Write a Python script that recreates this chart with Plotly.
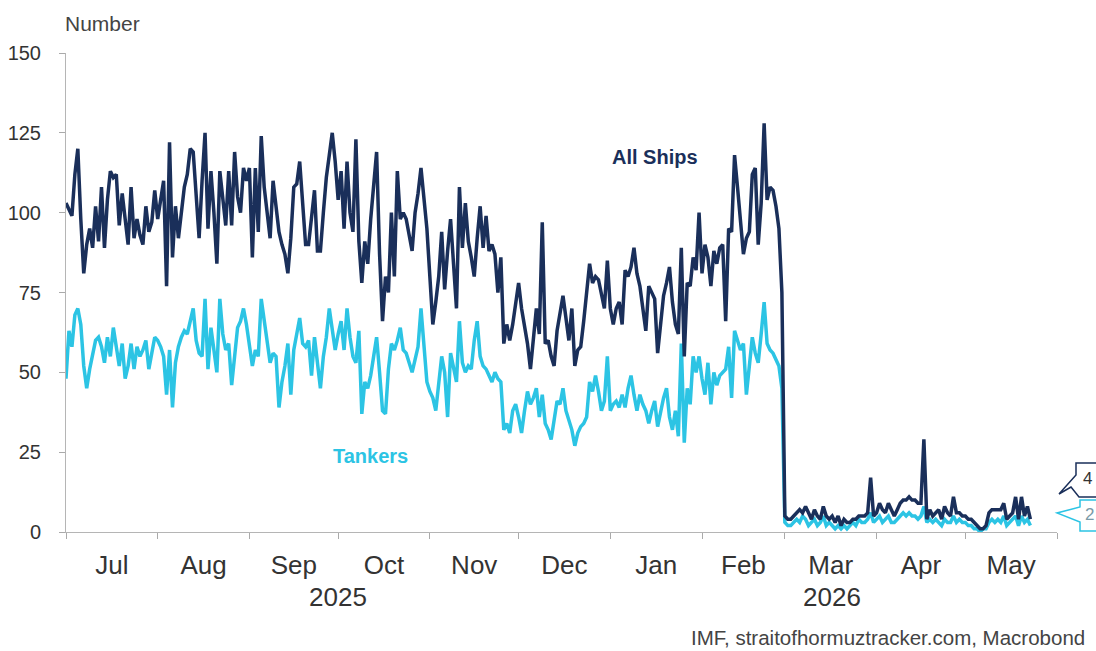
import pandas as pd
import plotly.graph_objects as go

start_date = "2025-07-01"

all_ships = [
    103,101,99,112,120,98,81,90,95,89,
    102,91,108,89,104,113,111,112,96,106,
    98,90,108,92,98,93,90,102,94,97,
    107,98,104,110,77,122,86,102,92,100,
    108,112,120,119,105,92,110,125,95,113,
    100,84,113,104,96,113,96,119,105,100,
    114,110,114,86,114,94,124,108,100,92,
    110,102,94,90,87,81,92,108,109,116,
    104,90,90,98,107,88,88,100,111,118,
    125,116,104,113,95,116,100,94,123,91,
    78,91,84,98,110,119,87,66,80,75,
    100,80,113,98,100,98,93,88,100,106,
    114,104,95,80,65,72,80,94,76,88,
    98,84,70,108,89,103,91,86,80,92,
    102,89,99,88,90,87,75,86,59,65,
    60,65,72,78,70,65,59,51,62,70,
    62,97,59,60,55,52,63,68,74,67,
    60,70,52,57,58,66,74,84,78,80,
    79,75,70,85,70,65,70,72,65,82,
    80,83,89,81,77,70,63,77,75,73,
    56,66,74,78,83,72,65,62,89,55,
    78,77,86,82,100,81,90,86,77,88,
    84,89,90,66,95,94,118,108,98,87,
    92,94,112,114,90,103,128,104,108,107,
    102,95,75,5,4,4,5,6,7,6,
    8,6,4,7,5,4,8,5,4,5,
    3,5,2,4,3,3,4,4,5,5,
    5,6,17,5,6,9,7,6,9,7,
    5,7,9,10,10,11,10,10,9,9,
    29,4,7,5,6,7,4,8,6,5,
    11,6,6,5,5,4,4,3,2,1,
    1,2,6,7,7,7,7,9,4,5,
    6,11,4,11,5,8,4,
]

tankers = [
    48,63,58,68,70,65,52,45,51,56,
    60,61,58,53,61,55,64,58,52,59,
    48,52,59,51,58,55,57,60,51,56,
    61,60,58,55,43,57,39,53,58,61,
    63,62,66,70,60,56,55,73,51,64,
    57,50,73,62,57,59,46,55,64,66,
    70,65,58,52,57,55,73,66,61,53,
    56,55,39,47,52,59,43,57,62,67,
    59,58,60,49,61,52,45,55,61,70,
    64,57,62,66,57,70,61,55,53,63,
    37,47,45,49,55,61,50,38,37,51,
    59,57,60,64,57,56,53,50,54,58,
    70,58,47,44,42,38,47,55,50,36,
    56,52,47,66,53,50,52,51,60,66,
    55,52,51,49,47,50,48,47,32,34,
    31,38,40,36,31,38,44,40,42,45,
    36,43,34,32,29,35,41,40,45,38,
    35,32,27,31,33,34,36,47,44,49,
    44,38,41,55,38,40,41,39,43,39,
    45,49,43,38,43,40,38,34,38,41,
    33,38,42,45,36,32,38,30,59,28,
    45,40,55,50,55,48,43,53,40,50,
    46,49,50,51,58,42,63,60,57,59,
    43,52,61,56,53,62,72,59,57,56,
    54,52,45,3,2,2,3,4,3,5,
    4,2,3,4,2,3,5,2,3,2,
    1,2,1,2,1,2,3,2,4,3,
    3,4,6,3,4,5,3,4,5,3,
    3,4,5,6,5,6,5,5,4,5,
    8,3,4,3,4,3,2,4,3,3,
    5,3,4,3,3,2,2,1,1,0,
    1,1,3,4,3,4,3,5,2,3,
    4,5,2,5,3,4,2,
]

y_ticks = [0, 25, 50, 75, 100, 125, 150]
year_labels = ["2025", "2026"]
year_centers = ["2025-10-01", "2026-03-17"]

dates = pd.date_range(start_date, periods=len(all_ships), freq="D")

NAVY = "#1a2f5a"
CYAN = "#2cc4e4"
FONT = "Liberation Sans, Arial, sans-serif"
W, H = 1096, 651
L, R, T, B = 66, 39, 53, 119

def px(x, y):
    return (x - L) / (W - L - R), (H - B - y) / (H - T - B)

fig = go.Figure()
fig.add_trace(go.Scatter(x=dates, y=tankers, mode="lines", name="Tankers",
                         line=dict(color=CYAN, width=3.5)))
fig.add_trace(go.Scatter(x=dates, y=all_ships, mode="lines", name="All Ships",
                         line=dict(color=NAVY, width=3.5)))

fig.update_layout(
    width=W, height=H,
    margin=dict(l=L, r=R, t=T, b=B, autoexpand=False),
    paper_bgcolor="white", plot_bgcolor="white",
    showlegend=False,
    font=dict(family=FONT, color="#333333"),
    xaxis=dict(
        type="date", range=["2025-07-01", "2026-06-01"],
        tick0="2025-07-01", dtick="M1", tickformat="%b",
        ticklabelmode="period", automargin=False,
        ticks="outside", ticklen=6, tickcolor="#aaaaaa",
        showline=True, linecolor="#b5b5b5", linewidth=1,
        showgrid=False, zeroline=False,
        tickfont=dict(size=26, color="#333333"),
        ticklabelstandoff=4,
    ),
    yaxis=dict(
        range=[0, 150], tickvals=y_ticks, automargin=False,
        ticks="outside", ticklen=6, tickcolor="#aaaaaa",
        showline=True, linecolor="#b5b5b5", linewidth=1,
        showgrid=False, zeroline=False,
        tickfont=dict(size=20, color="#333333"),
        ticklabelstandoff=14,
    ),
)

for lab, c in zip(year_labels, year_centers):
    fig.add_annotation(x=c, xref="x", y=-0.136, yref="paper", text=lab,
                       showarrow=False, font=dict(size=26, color="#333333"),
                       xanchor="center", yanchor="middle")

nx, ny = px(63, 23)
fig.add_annotation(x=nx, y=ny, xref="paper", yref="paper", text="Number",
                   showarrow=False, xanchor="left", yanchor="middle",
                   font=dict(size=21, color="#444444"))

ax_, ay_ = px(655, 157)
fig.add_annotation(x=ax_, y=ay_, xref="paper", yref="paper", text="<b>All Ships</b>",
                   showarrow=False, xanchor="center", yanchor="middle",
                   font=dict(size=20, color=NAVY))
tx, ty = px(370, 456)
fig.add_annotation(x=tx, y=ty, xref="paper", yref="paper", text="<b>Tankers</b>",
                   showarrow=False, xanchor="center", yanchor="middle",
                   font=dict(size=20, color=CYAN))

sx, sy = px(1087, 637)
fig.add_annotation(x=sx, y=sy, xref="paper", yref="paper",
                   text="IMF, straitofhormuztracker.com, Macrobond",
                   showarrow=False, xanchor="right", yanchor="middle",
                   font=dict(size=20.5, color="#444444"))

def callout(points, color):
    pts = [px(x, y) for x, y in points]
    path = "M " + " L ".join(f"{a:.5f},{b:.5f}" for a, b in pts) + " Z"
    fig.add_shape(type="path", path=path, xref="paper", yref="paper",
                  line=dict(color=color, width=1.5), fillcolor="white", layer="above")

callout([(1076, 463), (1100, 463), (1100, 497), (1079, 497), (1071, 487), (1059, 494), (1076, 475)], NAVY)
callout([(1080, 500), (1100, 500), (1100, 531), (1080, 531), (1080, 522), (1057, 513), (1080, 507)], CYAN)

lx, ly = px(1087, 478)
fig.add_annotation(x=lx, y=ly, xref="paper", yref="paper", text=str(all_ships[-1]),
                   showarrow=False, font=dict(size=17, color="#333333"),
                   xanchor="center", yanchor="middle")
lx, ly = px(1089, 514)
fig.add_annotation(x=lx, y=ly, xref="paper", yref="paper", text=str(tankers[-1]),
                   showarrow=False, font=dict(size=17, color="#7a9aa8"),
                   xanchor="center", yanchor="middle")

fig.write_html("out.html", config={"displayModeBar": False},
               post_script="document.body.style.margin='0px';")
